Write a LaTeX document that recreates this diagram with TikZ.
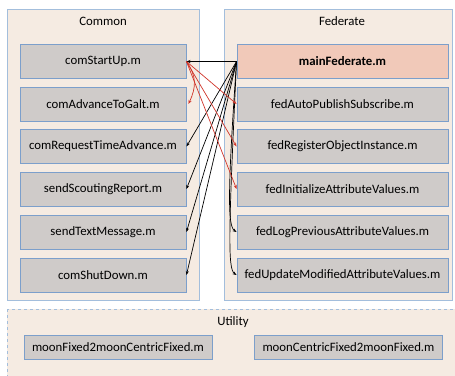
\documentclass[tikz,border=0pt]{standalone}
\usepackage{fontspec}
\setmainfont{Carlito}
\usepackage{xcolor}
\usetikzlibrary{arrows.meta}
\definecolor{panelfill}{HTML}{F5EBE2}
\definecolor{panelline}{HTML}{A3BEDC}
\definecolor{boxfill}{HTML}{CFCBC9}
\definecolor{boxline}{HTML}{7C9FCB}
\definecolor{mainfill}{HTML}{F1C9B9}
\definecolor{callred}{HTML}{D0352A}
\begin{document}
\begin{tikzpicture}[x=1pt, y=-1pt, font=\fontsize{12.8}{15}\selectfont,
    panel/.style={draw=panelline, fill=panelfill, line width=0.8pt},
    filebox/.style={draw=boxline, fill=boxfill, line width=0.9pt, minimum height=34pt, inner sep=0pt},
    common/.style={filebox, minimum width=166pt},
    federate/.style={filebox, minimum width=211pt},
    util/.style={filebox, minimum width=188pt, minimum height=24pt},
    call/.style={-{Stealth[length=4pt, width=3pt]}, line width=0.7pt},
    redcall/.style={call, callred}]
    \useasboundingbox (0,0) rectangle (455,375);

    \draw[panel] (7,9) rectangle (199,300);
    \draw[panel] (224,9) rectangle (452,300);
    \draw[panel, dashed] (7,309) rectangle (462,380);

    \node (TC) at (103,21){Common};
    \node (TF) at (342,21){Federate};
    \node (TU) at (233,322){Utility};

    \node[common] (C1) at (103,61.5){comStartUp.m};
    \node[common] (C2) at (103,104){comAdvanceToGalt.m};
    \node[common] (C3) at (103,146.5){comRequestTimeAdvance.m};
    \node[common] (C4) at (103,189){sendScoutingReport.m};
    \node[common] (C5) at (103,232){sendTextMessage.m};
    \node[common] (C6) at (103,275){comShutDown.m};

    \node[federate, fill=mainfill, font=\fontsize{12.8}{15}\selectfont\bfseries] (F1) at (342.5,61.5){mainFederate.m};
    \node[federate] (F2) at (342.5,104){fedAutoPublishSubscribe.m};
    \node[federate] (F3) at (342.5,146.5){fedRegisterObjectInstance.m};
    \node[federate] (F4) at (342.5,189){fedInitializeAttributeValues.m};
    \node[federate] (F5) at (342.5,232){fedLogPreviousAttributeValues.m};
    \node[federate] (F6) at (342.5,275){fedUpdateModifiedAttributeValues.m};

    \node[util] (U1) at (118,347){moonFixed2moonCentricFixed.m};
    \node[util] (U2) at (348.5,347){moonCentricFixed2moonFixed.m};

    \draw[call] (F1.west) -- (C1.east);
    \draw[call] (F1.west) -- (C3.east);
    \draw[call] (F1.west) -- (C4.east);
    \draw[call] (F1.west) -- (C5.east);
    \draw[call] (F1.west) -- (C6.east);
    \draw[call] (F1.west) .. controls ([xshift=-9pt, yshift=-130pt]F1.west) and ([xshift=-9pt, yshift=6pt]F5.west) .. (F5.west);
    \draw[call] (F1.west) .. controls ([xshift=-8pt, yshift=-170pt]F1.west) and ([xshift=-9pt, yshift=6pt]F6.west) .. (F6.west);

    \draw[redcall] (C1.east) to [out=-55, in=65, looseness=1.1] ([xshift=2pt]C2.east);
    \draw[redcall] (C1.east) -- (F2.west);
    \draw[redcall] (C1.east) -- (F3.west);
    \draw[redcall] (C1.east) -- (F4.west);
\end{tikzpicture}
\end{document}
